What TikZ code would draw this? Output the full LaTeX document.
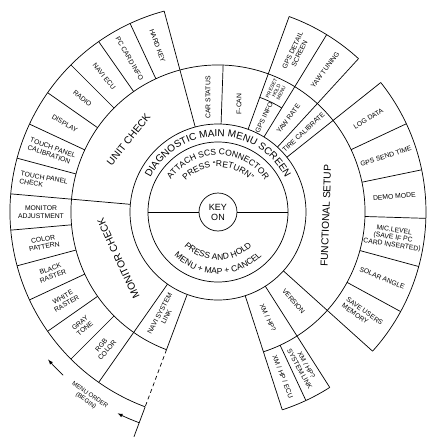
\documentclass[tikz,border=0pt]{standalone}
\usepackage{fontspec}
\setmainfont{Liberation Sans}
\usetikzlibrary{arrows,decorations.text}
\newcommand{\cellfont}{\fontsize{6.8}{7.6}\selectfont}
\newcommand{\smallcellfont}{\fontsize{5}{5.4}\selectfont}
\newcommand{\sectorfont}{\fontsize{10.2}{12}\selectfont}
\newcommand{\ringfont}{\fontsize{10}{12}\selectfont}
\newcommand{\hubfont}{\fontsize{8.5}{10}\selectfont}
\newcommand{\keyfont}{\fontsize{9}{10}\selectfont}
\newcommand{\notefont}{\fontsize{6.2}{7}\selectfont}
\newcommand{\spoke}[3]{\draw (#1:#2pt) -- (#1:#3pt);}
\newcommand{\ringarc}[3]{\draw (#1:#3pt) arc[start angle=#1, end angle=#2, radius=#3pt];}
\tikzset{
	every picture/.style={line width=0.7pt},
	cell/.style={font=\cellfont, inner sep=0, align=center},
	sector/.style={font=\sectorfont, inner sep=0},
	ringtext/.style={decorate, decoration={text along path, text align=center, text={#1}}},
	>=latex
}

\begin{document}
\begin{tikzpicture}[x=1pt, y=1pt]
	\useasboundingbox (-218,-236) rectangle (220,212);
	
	% hub
	\node[draw, circle, minimum size=38pt, inner sep=0, font=\keyfont, align=center] (key) at (0,0) {KEY\\ON};
	\draw (0,0) circle[radius=70pt];
	\draw (0,0) circle[radius=88pt];
	\draw (key.west) -- (180:70pt);
	\draw (key.east) -- (0:70pt);
	
	\path[ringtext={|\ringfont|DIAGNOSTIC MAIN MENU SCREEN}] (170:75.5pt) arc[start angle=170, end angle=10, radius=75.5pt];
	\path[ringtext={|\hubfont|ATTACH SCS CONNECTOR}] (170:57pt) arc[start angle=170, end angle=10, radius=57pt];
	\path[ringtext={|\hubfont|PRESS “RETURN”}] (170:45pt) arc[start angle=170, end angle=10, radius=45pt];
	\path[ringtext={|\hubfont|PRESS AND HOLD}] (190:48pt) arc[start angle=190, end angle=350, radius=48pt];
	\path[ringtext={|\hubfont|MENU + MAP + CANCEL}] (190:62pt) arc[start angle=190, end angle=350, radius=62pt];
	
	% rings and spokes
	\ringarc{-72}{249.5}{147}
	\ringarc{-72}{-57.5}{208}
	\ringarc{-42}{38.5}{208}
	\ringarc{47.5}{70}{208}
	\ringarc{105}{249.5}{208}
	\ringarc{58.5}{70}{122}
	
	\foreach \a in {-72,-57.5,-42,38.5,47.5,58.5,70,105,175,235} {\spoke{\a}{88}{208}}
	\foreach \a in {-65,-28.6,-15.2,-1.75,11.7,25.1} {\spoke{\a}{147}{208}}
	\foreach \a in {115,125,...,165} {\spoke{\a}{147}{208}}
	\foreach \a in {185,195,...,225} {\spoke{\a}{147}{208}}
	\spoke{88}{88}{147}
	\spoke{249.5}{88}{147}
	\draw[dash pattern=on 4pt off 3pt] (249.5:147pt) -- (249.5:208pt);
	\spoke{249.5}{208}{240}
	
	% unit check
	\node[cell, rotate=-70] (hardkey) at (110:177pt) {HARD KEY};
	\node[cell, rotate=-60] (pccard) at (120:177pt) {PC CARD INFO};
	\node[cell, rotate=-50] (naviecu) at (130:177pt) {NAVI ECU};
	\node[cell, rotate=-40] (radio) at (140:177pt) {RADIO};
	\node[cell, rotate=-30] (display) at (150:177pt) {DISPLAY};
	\node[cell, rotate=-20, align=left] (tpcal) at (160:177pt) {TOUCH PANEL\\CALIBRATION};
	\node[cell, rotate=-10, align=left] (tpcheck) at (170:177pt) {TOUCH PANEL\\CHECK};
	\node[sector, rotate=51] (unit) at (141:115pt) {UNIT CHECK};
	
	% monitor check
	\node[cell] (monadj) at (180:177pt) {MONITOR\\ADJUSTMENT};
	\node[cell, rotate=10] (colpat) at (190:177pt) {COLOR\\PATTERN};
	\node[cell, rotate=20] (black) at (200:177pt) {BLACK\\RASTER};
	\node[cell, rotate=30] (white) at (210:177pt) {WHITE\\RASTER};
	\node[cell, rotate=40] (gray) at (220:177pt) {GRAY\\TONE};
	\node[cell, rotate=50] (rgb) at (230:177pt) {RGB\\COLOR};
	\node[sector, rotate=115] (monitor) at (205:110pt) {MONITOR CHECK};
	\node[cell, rotate=62] (navilink) at (242:117pt) {NAVI SYSTEM\\LINK};
	
	% top
	\node[cell, rotate=90] (carstatus) at (95:115pt) {CAR STATUS};
	\node[cell, rotate=90] (fcan) at (79:110pt) {F-CAN};
	\node[cell, rotate=64] (gpsinfo) at (64:105pt) {GPS INFO};
	\node[cell, font=\smallcellfont, rotate=64] (preset) at (64.3:134.5pt) {PRESET\\HOLD\\MENU};
	\node[cell, rotate=64] (gpsdetail) at (64:178pt) {GPS DETAIL\\SCREEN};
	\node[cell, rotate=53] (yawtune) at (53:178pt) {YAW TUNING};
	\node[cell, rotate=53] (yawrate) at (53:117pt) {YAW RATE};
	\node[cell, rotate=43] (tirecal) at (43:117pt) {TIRE CALIBRATE};
	
	% functional setup
	\node[cell, rotate=31.8] (logdata) at (31.8:177pt) {LOG DATA};
	\node[cell, rotate=18.4] (gpssend) at (18.4:177pt) {GPS SEND TIME};
	\node[cell, rotate=5] (demo) at (5:177pt) {DEMO MODE};
	\node[cell, rotate=-8.4] (miclevel) at (-8.4:177pt) {MIC.LEVEL\\(SAVE IF PC\\CARD INSERTED)};
	\node[cell, rotate=-21.9] (solar) at (-21.9:177pt) {SOLAR ANGLE};
	\node[cell, rotate=-35.3, align=left] (saveusers) at (-35.3:177pt) {SAVE USERS\\MEMORY};
	\node[sector, rotate=88] (functional) at (-2:108pt) {FUNCTIONAL SETUP};
	
	% bottom
	\node[cell, rotate=-49.75] (version) at (-49.75:117pt) {VERSION};
	\node[cell, rotate=-64.75] (xmhp) at (-64.75:117pt) {XM / HP?};
	\node[cell, rotate=-61.25] (xmlink) at (-61.25:177pt) {XM / HP?\\SYSTEM LINK};
	\node[cell, rotate=-68.5] (xmecu) at (-68.5:177pt) {XM / HP / ECU};
	
	% menu order
	\coordinate (orda) at (226.5:225pt);
	\coordinate (ordb) at (249.5:225pt);
	\draw[->] (orda) arc[start angle=226.5, end angle=221, radius=225pt];
	\draw[->] (ordb) arc[start angle=249.5, end angle=243.5, radius=225pt];
	\node[cell, font=\notefont, rotate=-35] (menuorder) at (235:227pt) {MENU ORDER\\(BEGIN)};
\end{tikzpicture}
\end{document}
